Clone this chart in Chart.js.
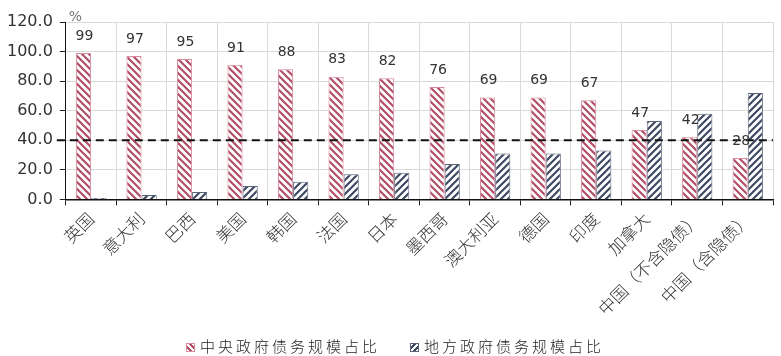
<!DOCTYPE html>
<html>
<head>
<meta charset="utf-8">
<script src="https://cdn.jsdelivr.net/npm/chart.js@4.4.1/dist/chart.umd.min.js"></script>
<style>
  html, body { margin: 0; padding: 0; background: #fff; }
  #wrap { position: relative; width: 781px; height: 356px; }
  #debt-share-chart { position: absolute; left: 0; top: 0; }
  #debt-legend {
    position: absolute; left: 0; top: 336px; width: 781px; height: 20px;
    font-family: "Noto Sans CJK SC", sans-serif; font-size: 15px; font-weight: 300;
    color: #222; letter-spacing: 3px; white-space: nowrap;
  }
  #debt-legend .item { position: absolute; top: 0; line-height: 20px; }
  #debt-legend .box {
    display: inline-block; width: 9px; height: 9px; margin-right: 5px;
    vertical-align: 0px; box-sizing: border-box;
  }
  #debt-legend .central .box {
    border: 1px solid #d98a9b;
    background: repeating-linear-gradient(45deg, #fff 0 2px, #b04f69 2px 4px);
  }
  #debt-legend .local .box {
    border: 1px solid #5a6478;
    background: repeating-linear-gradient(-45deg, #fff 0 2px, #3d4a62 2px 4px);
  }
</style>
</head>
<body>
<div id="wrap">
  <canvas id="debt-share-chart" width="781" height="356"></canvas>
  <div id="debt-legend">
    <span class="item central" style="left:186px"><span class="box"></span>中央政府债务规模占比</span>
    <span class="item local" style="left:410px"><span class="box"></span>地方政府债务规模占比</span>
  </div>
</div>
<script>
const countries = ["英国", "意大利", "巴西", "美国", "韩国", "法国", "日本", "墨西哥", "澳大利亚", "德国", "印度", "加拿大", "中国（不含隐债）", "中国（含隐债）"];
const centralShare = [99, 97, 95, 91, 88, 83, 82, 76, 69, 69, 67, 47, 42, 28];
const localShare = [1, 3, 5, 9, 12, 17, 18, 24, 31, 31, 33, 53, 58, 72];
const avgLine = 40;
const yTicks = [0, 20, 40, 60, 80, 100, 120];

function makeHatch(color, dir) {
  const size = 7;
  const c = document.createElement("canvas");
  c.width = size;
  c.height = size;
  const g = c.getContext("2d");
  g.fillStyle = "#fff";
  g.fillRect(0, 0, size, size);
  g.strokeStyle = color;
  g.lineWidth = 2.2;
  g.beginPath();
  if (dir === "down") {
    g.moveTo(-1, -1); g.lineTo(size + 1, size + 1);
    g.moveTo(-1, size - 1); g.lineTo(1, size + 1);
    g.moveTo(size - 1, -1); g.lineTo(size + 1, 1);
  } else {
    g.moveTo(-1, size + 1); g.lineTo(size + 1, -1);
    g.moveTo(-1, 1); g.lineTo(1, -1);
    g.moveTo(size - 1, size + 1); g.lineTo(size + 1, size - 1);
  }
  g.stroke();
  return g.createPattern(c, "repeat");
}

const canvas = document.getElementById("debt-share-chart");
const redHatch = makeHatch("#b04f69", "down");
const blueHatch = makeHatch("#3d4a62", "up");

// dashed reference line at 40, value labels above the central bars, "%" unit mark
const overlayPlugin = {
  id: "overlay",
  afterDatasetsDraw(chart) {
    const c = chart.ctx;
    const area = chart.chartArea;
    const y = chart.scales.y.getPixelForValue(avgLine);
    c.save();
    c.strokeStyle = "#111";
    c.lineWidth = 2;
    c.setLineDash([8, 5]);
    c.beginPath();
    c.moveTo(area.left - 9, y);
    c.lineTo(area.right, y);
    c.stroke();
    c.setLineDash([]);

    const meta = chart.getDatasetMeta(0);
    c.fillStyle = "#333";
    c.font = "14px 'DejaVu Sans', sans-serif";
    c.textAlign = "center";
    c.textBaseline = "bottom";
    meta.data.forEach((bar, i) => {
      c.fillText(String(centralShare[i]), bar.x + 1, bar.y - 10);
    });

    c.fillStyle = "#777";
    c.font = "14px 'DejaVu Sans', sans-serif";
    c.textAlign = "left";
    c.fillText("%", area.left + 3, area.top + 2);
    c.restore();
  }
};

new Chart(canvas, {
  type: "bar",
  data: {
    labels: countries,
    datasets: [
      {
        label: "中央政府债务规模占比",
        data: centralShare,
        backgroundColor: redHatch,
        borderColor: "#d98a9b",
        borderWidth: 1
      },
      {
        label: "地方政府债务规模占比",
        data: localShare,
        backgroundColor: blueHatch,
        borderColor: "#5a6478",
        borderWidth: 1
      }
    ]
  },
  options: {
    responsive: false,
    animation: false,
    layout: { padding: { top: 22, right: 8, left: 0, bottom: 34 } },
    datasets: { bar: { categoryPercentage: 0.6, barPercentage: 1.0 } },
    scales: {
      x: {
        grid: { color: "#d9d9d9", tickColor: "#222", tickLength: 6, offset: true },
        border: { color: "#111", width: 1.5 },
        ticks: {
          autoSkip: false,
          minRotation: 45,
          maxRotation: 45,
          color: "#333",
          font: { family: "'Noto Sans CJK SC', sans-serif", size: 17, weight: 300 }
        }
      },
      y: {
        min: 0,
        max: 120,
        afterBuildTicks(scale) {
          scale.ticks = yTicks.map(v => ({ value: v }));
        },
        grid: { color: "#d9d9d9", tickColor: "#222", tickLength: 6 },
        border: { color: "#111", width: 1 },
        ticks: {
          color: "#333",
          padding: 7,
          font: { family: "'DejaVu Sans', sans-serif", size: 16 },
          callback: value => Number(value).toFixed(1)
        }
      }
    },
    plugins: {
      legend: { display: false },
      tooltip: { enabled: false }
    }
  },
  plugins: [overlayPlugin]
});
</script>
</body>
</html>
